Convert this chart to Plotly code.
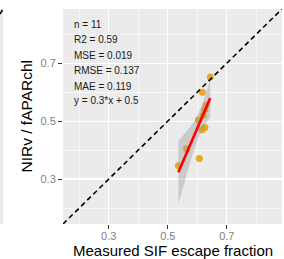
import numpy as np
import plotly.graph_objects as go

# ---- data ----
measured_escape = [0.644, 0.617, 0.630, 0.625, 0.604, 0.626, 0.616, 0.564, 0.607, 0.536, 0.620]
nirv_fapar      = [0.652, 0.600, 0.555, 0.540, 0.504, 0.478, 0.470, 0.405, 0.371, 0.346, 0.520]
stats_lines = ["n = 11", "R2 = 0.59", "MSE = 0.019", "RMSE = 0.137", "MAE = 0.119", "y = 0.3*x + 0.5"]
tick_vals = [0.3, 0.5, 0.7]
tick_text = ["0.3", "0.5", "0.7"]
minor_vals = [0.2, 0.4, 0.6, 0.8]
axis_range = [0.145, 0.887]
x_title = "Measured SIF escape fraction"
y_title = "NIRv / fAPARchl"

# ---- linear fit with 95% confidence band ----
x = np.array(measured_escape)
y = np.array(nirv_fapar)
n = len(x)
b1, b0 = np.polyfit(x, y, 1)
resid = y - (b0 + b1 * x)
s = np.sqrt(np.sum(resid ** 2) / (n - 2))
sxx = np.sum((x - x.mean()) ** 2)
xg = np.linspace(x.min(), x.max(), 60)
yg = b0 + b1 * xg
tcrit = 2.262
se = s * np.sqrt(1.0 / n + (xg - x.mean()) ** 2 / sxx)
upper = yg + tcrit * se
lower = yg - tcrit * se

W, H = 284, 259
L, R, T, B = 63, 2, 9, 35
PW, PH = W - L - R, H - T - B

def px_x(p):
    return (p - L) / PW

def px_y(p):
    return (H - B - p) / PH

fig = go.Figure()

fig.add_trace(go.Scatter(
    x=measured_escape, y=nirv_fapar, mode="markers",
    marker=dict(color="#E69F00", size=7, opacity=0.85, line=dict(width=0)),
    showlegend=False, hoverinfo="skip"))

fig.add_trace(go.Scatter(
    x=np.concatenate([xg, xg[::-1]]), y=np.concatenate([upper, lower[::-1]]),
    fill="toself", fillcolor="rgba(153,153,153,0.4)", line=dict(width=0),
    mode="lines", showlegend=False, hoverinfo="skip"))

fig.add_trace(go.Scatter(
    x=xg, y=yg, mode="lines", line=dict(color="#FF0000", width=2.6),
    showlegend=False, hoverinfo="skip"))

fig.add_trace(go.Scatter(
    x=axis_range, y=axis_range, mode="lines",
    line=dict(color="black", width=1.6, dash="5px,3.5px"),
    showlegend=False, hoverinfo="skip", cliponaxis=True))

axis_common = dict(
    range=axis_range, tickvals=tick_vals, ticktext=tick_text,
    showgrid=True, gridcolor="white", gridwidth=1.2,
    minor=dict(tickvals=minor_vals, showgrid=True, gridcolor="white", gridwidth=0.6, ticks=""),
    ticks="outside", ticklen=4, tickwidth=1, tickcolor="#333333",
    tickfont=dict(size=11, color="#7F7F7F", family="Liberation Sans, Arial, sans-serif"),
    zeroline=False, showline=False, fixedrange=True)

fig.update_layout(
    width=W, height=H, autosize=False,
    margin=dict(l=L, r=R, t=T, b=B, pad=0),
    paper_bgcolor="white", plot_bgcolor="#EBEBEB",
    font=dict(family="Liberation Sans, Arial, sans-serif", color="#1A1A1A"),
    xaxis=dict(axis_common, ticklabelstandoff=-2), yaxis=axis_common,
    showlegend=False, hovermode=False)

annotations = []
stat_y_px = [24, 39.3, 55, 70.7, 86, 100.7]
for txt, py in zip(stats_lines, stat_y_px):
    annotations.append(dict(
        text=txt, x=px_x(72), y=px_y(py), xref="paper", yref="paper",
        xanchor="left", yanchor="middle", showarrow=False,
        font=dict(size=10, color="#1A1A1A")))

annotations.append(dict(
    text=x_title, x=0.5, y=px_y(250.8), xref="paper", yref="paper",
    xanchor="center", yanchor="middle", showarrow=False,
    font=dict(size=15, color="#000000")))
annotations.append(dict(
    text=y_title, x=px_x(26), y=0.5, xref="paper", yref="paper",
    xanchor="center", yanchor="middle", showarrow=False, textangle=-90,
    font=dict(size=15.5, color="#000000")))

shapes = [
    dict(type="rect", xref="paper", yref="paper", x0=px_x(0), x1=px_x(3),
         y0=0, y1=1, fillcolor="#EBEBEB", line=dict(width=0), layer="below"),
    dict(type="line", xref="paper", yref="paper", x0=px_x(0), x1=px_x(2.5),
         y0=px_y(14), y1=px_y(10), line=dict(color="black", width=1.5)),
]

fig.update_layout(annotations=annotations, shapes=shapes)

fig.write_html("out.html", config={"displayModeBar": False, "staticPlot": True},
               post_script="document.body.style.margin='0';document.body.style.overflow='hidden';")
